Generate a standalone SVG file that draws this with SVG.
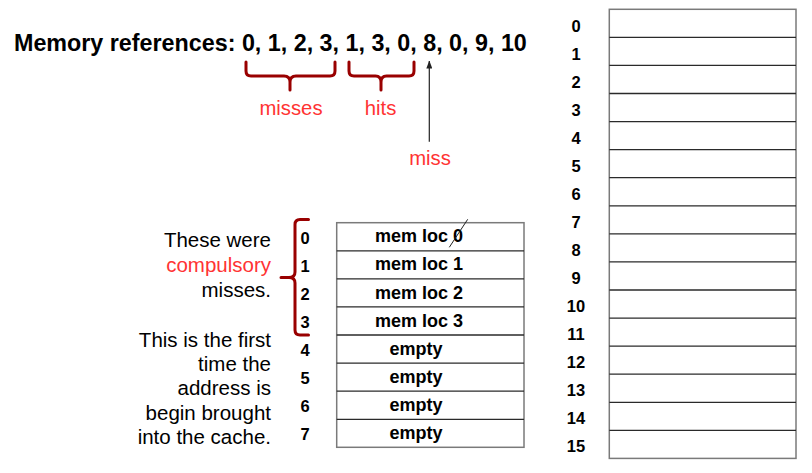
<svg xmlns="http://www.w3.org/2000/svg" width="812" height="473" viewBox="0 0 812 473">
<style>
  .title{font-family:"Liberation Sans",Arial,sans-serif;font-weight:bold;font-size:23.3px;fill:#000}
  .red{font-family:"Liberation Sans",Arial,sans-serif;font-size:20.3px;fill:#ff3333}
  .note{font-family:"Liberation Sans",Arial,sans-serif;font-size:20.5px;fill:#000;text-anchor:end}
  .idx{font-family:"Liberation Sans",Arial,sans-serif;font-weight:bold;font-size:16.5px;fill:#000;text-anchor:middle}
  .cell{font-family:"Liberation Sans",Arial,sans-serif;font-weight:bold;font-size:18px;fill:#000;text-anchor:middle}
  .outer{fill:#fff;stroke:#7a7a7a;stroke-width:1.5}
  .inner{stroke:#2a2a2a;stroke-width:1.3}
  .brace{fill:none;stroke:#990000;stroke-width:3;stroke-linejoin:round;stroke-linecap:round}
</style>
<defs>
  <marker id="ah" markerWidth="8" markerHeight="6" refX="7.5" refY="3" orient="auto" markerUnits="userSpaceOnUse" viewBox="0 0 8 6">
    <path d="M0,0 L8,3 L0,6 Z" fill="#222"/>
  </marker>
</defs>
<rect width="812" height="473" fill="#fff"/>

<g id="title">
  <text class="title" x="14" y="50.7">Memory references: 0, 1, 2, 3, 1, 3, 0, 8, 0, 9, 10</text>
</g>

<g id="labels">
  <text class="red" x="291" y="114.5" text-anchor="middle">misses</text>
  <text class="red" x="380.5" y="114.5" text-anchor="middle">hits</text>
  <text class="red" x="430" y="165" text-anchor="middle">miss</text>
</g>

<g id="note">
  <text class="note" x="271" y="247.3">These were</text>
  <text class="note" x="271" y="272.3" style="fill:#ff3333">compulsory</text>
  <text class="note" x="271" y="297.3">misses.</text>
  <text class="note" x="271" y="346.7">This is the first</text>
  <text class="note" x="271" y="371">time the</text>
  <text class="note" x="271" y="395.3">address is</text>
  <text class="note" x="271" y="419.6">begin brought</text>
  <text class="note" x="271" y="444">into the cache.</text>
</g>

<g id="cache">
  <rect class="outer" x="336.7" y="222.7" width="187.3" height="224.6"/>
  <line class="inner" x1="336.7" x2="524" y1="250.8" y2="250.8"/>
  <line class="inner" x1="336.7" x2="524" y1="278.9" y2="278.9"/>
  <line class="inner" x1="336.7" x2="524" y1="306.9" y2="306.9"/>
  <line class="inner" x1="336.7" x2="524" y1="335.0" y2="335.0"/>
  <line class="inner" x1="336.7" x2="524" y1="363.1" y2="363.1"/>
  <line class="inner" x1="336.7" x2="524" y1="391.2" y2="391.2"/>
  <line class="inner" x1="336.7" x2="524" y1="419.3" y2="419.3"/>
  <text class="cell" x="419" y="242.3">mem loc 0</text>
  <text class="cell" x="419" y="270.4">mem loc 1</text>
  <text class="cell" x="419" y="298.5">mem loc 2</text>
  <text class="cell" x="419" y="326.6">mem loc 3</text>
  <text class="cell" x="416" y="354.6">empty</text>
  <text class="cell" x="416" y="382.7">empty</text>
  <text class="cell" x="416" y="410.8">empty</text>
  <text class="cell" x="416" y="438.9">empty</text>
  <line x1="449.3" y1="247.3" x2="467.7" y2="219.3" stroke="#222" stroke-width="1"/>
  <text class="idx" x="305" y="244.3">0</text>
  <text class="idx" x="305" y="272.3">1</text>
  <text class="idx" x="305" y="300.2">2</text>
  <text class="idx" x="305" y="328.2">3</text>
  <text class="idx" x="305" y="356.1">4</text>
  <text class="idx" x="305" y="384.1">5</text>
  <text class="idx" x="305" y="412">6</text>
  <text class="idx" x="305" y="440">7</text>
</g>

<g id="memory">
  <rect class="outer" x="609.3" y="9.3" width="186.7" height="449.1"/>
  <line class="inner" x1="609.3" x2="796" y1="37.4" y2="37.4"/>
  <line class="inner" x1="609.3" x2="796" y1="65.4" y2="65.4"/>
  <line class="inner" x1="609.3" x2="796" y1="93.5" y2="93.5"/>
  <line class="inner" x1="609.3" x2="796" y1="121.6" y2="121.6"/>
  <line class="inner" x1="609.3" x2="796" y1="149.7" y2="149.7"/>
  <line class="inner" x1="609.3" x2="796" y1="177.7" y2="177.7"/>
  <line class="inner" x1="609.3" x2="796" y1="205.8" y2="205.8"/>
  <line class="inner" x1="609.3" x2="796" y1="233.9" y2="233.9"/>
  <line class="inner" x1="609.3" x2="796" y1="261.9" y2="261.9"/>
  <line class="inner" x1="609.3" x2="796" y1="290.0" y2="290.0"/>
  <line class="inner" x1="609.3" x2="796" y1="318.1" y2="318.1"/>
  <line class="inner" x1="609.3" x2="796" y1="346.1" y2="346.1"/>
  <line class="inner" x1="609.3" x2="796" y1="374.2" y2="374.2"/>
  <line class="inner" x1="609.3" x2="796" y1="402.3" y2="402.3"/>
  <line class="inner" x1="609.3" x2="796" y1="430.4" y2="430.4"/>
  <text class="idx" x="576" y="31.7">0</text>
  <text class="idx" x="576" y="59.7">1</text>
  <text class="idx" x="576" y="87.7">2</text>
  <text class="idx" x="576" y="115.7">3</text>
  <text class="idx" x="576" y="143.7">4</text>
  <text class="idx" x="576" y="171.7">5</text>
  <text class="idx" x="576" y="199.7">6</text>
  <text class="idx" x="576" y="227.7">7</text>
  <text class="idx" x="576" y="255.7">8</text>
  <text class="idx" x="576" y="283.7">9</text>
  <text class="idx" x="576" y="311.7">10</text>
  <text class="idx" x="576" y="339.7">11</text>
  <text class="idx" x="576" y="367.7">12</text>
  <text class="idx" x="576" y="395.7">13</text>
  <text class="idx" x="576" y="423.7">14</text>
  <text class="idx" x="576" y="451.7">15</text>
</g>

<g id="connectors">
  <path class="brace" d="M246,62 L246,71 Q246,76 251,76 L284,76 Q290,76 290,82 L290,90 M290,82 Q290,76 296,76 L330,76 Q335,76 335,71 L335,62"/>
  <path class="brace" d="M349,62 L349,71 Q349,76 354,76 L375.5,76 Q381,76 381,82 L381,90 M381,82 Q381,76 386.5,76 L409,76 Q414,76 414,71 L414,62"/>
  <path class="brace" d="M308.5,219.5 L300,219.5 Q295,219.5 295,224.5 L295,272 Q295,277.5 289,277.5 L281,277.5 M289,277.5 Q295,277.5 295,283 L295,330 Q295,335 300,335 L308.5,335"/>
  <line x1="429.3" y1="141.7" x2="429.3" y2="61" stroke="#222" stroke-width="1.2" marker-end="url(#ah)"/>
</g>
</svg>
